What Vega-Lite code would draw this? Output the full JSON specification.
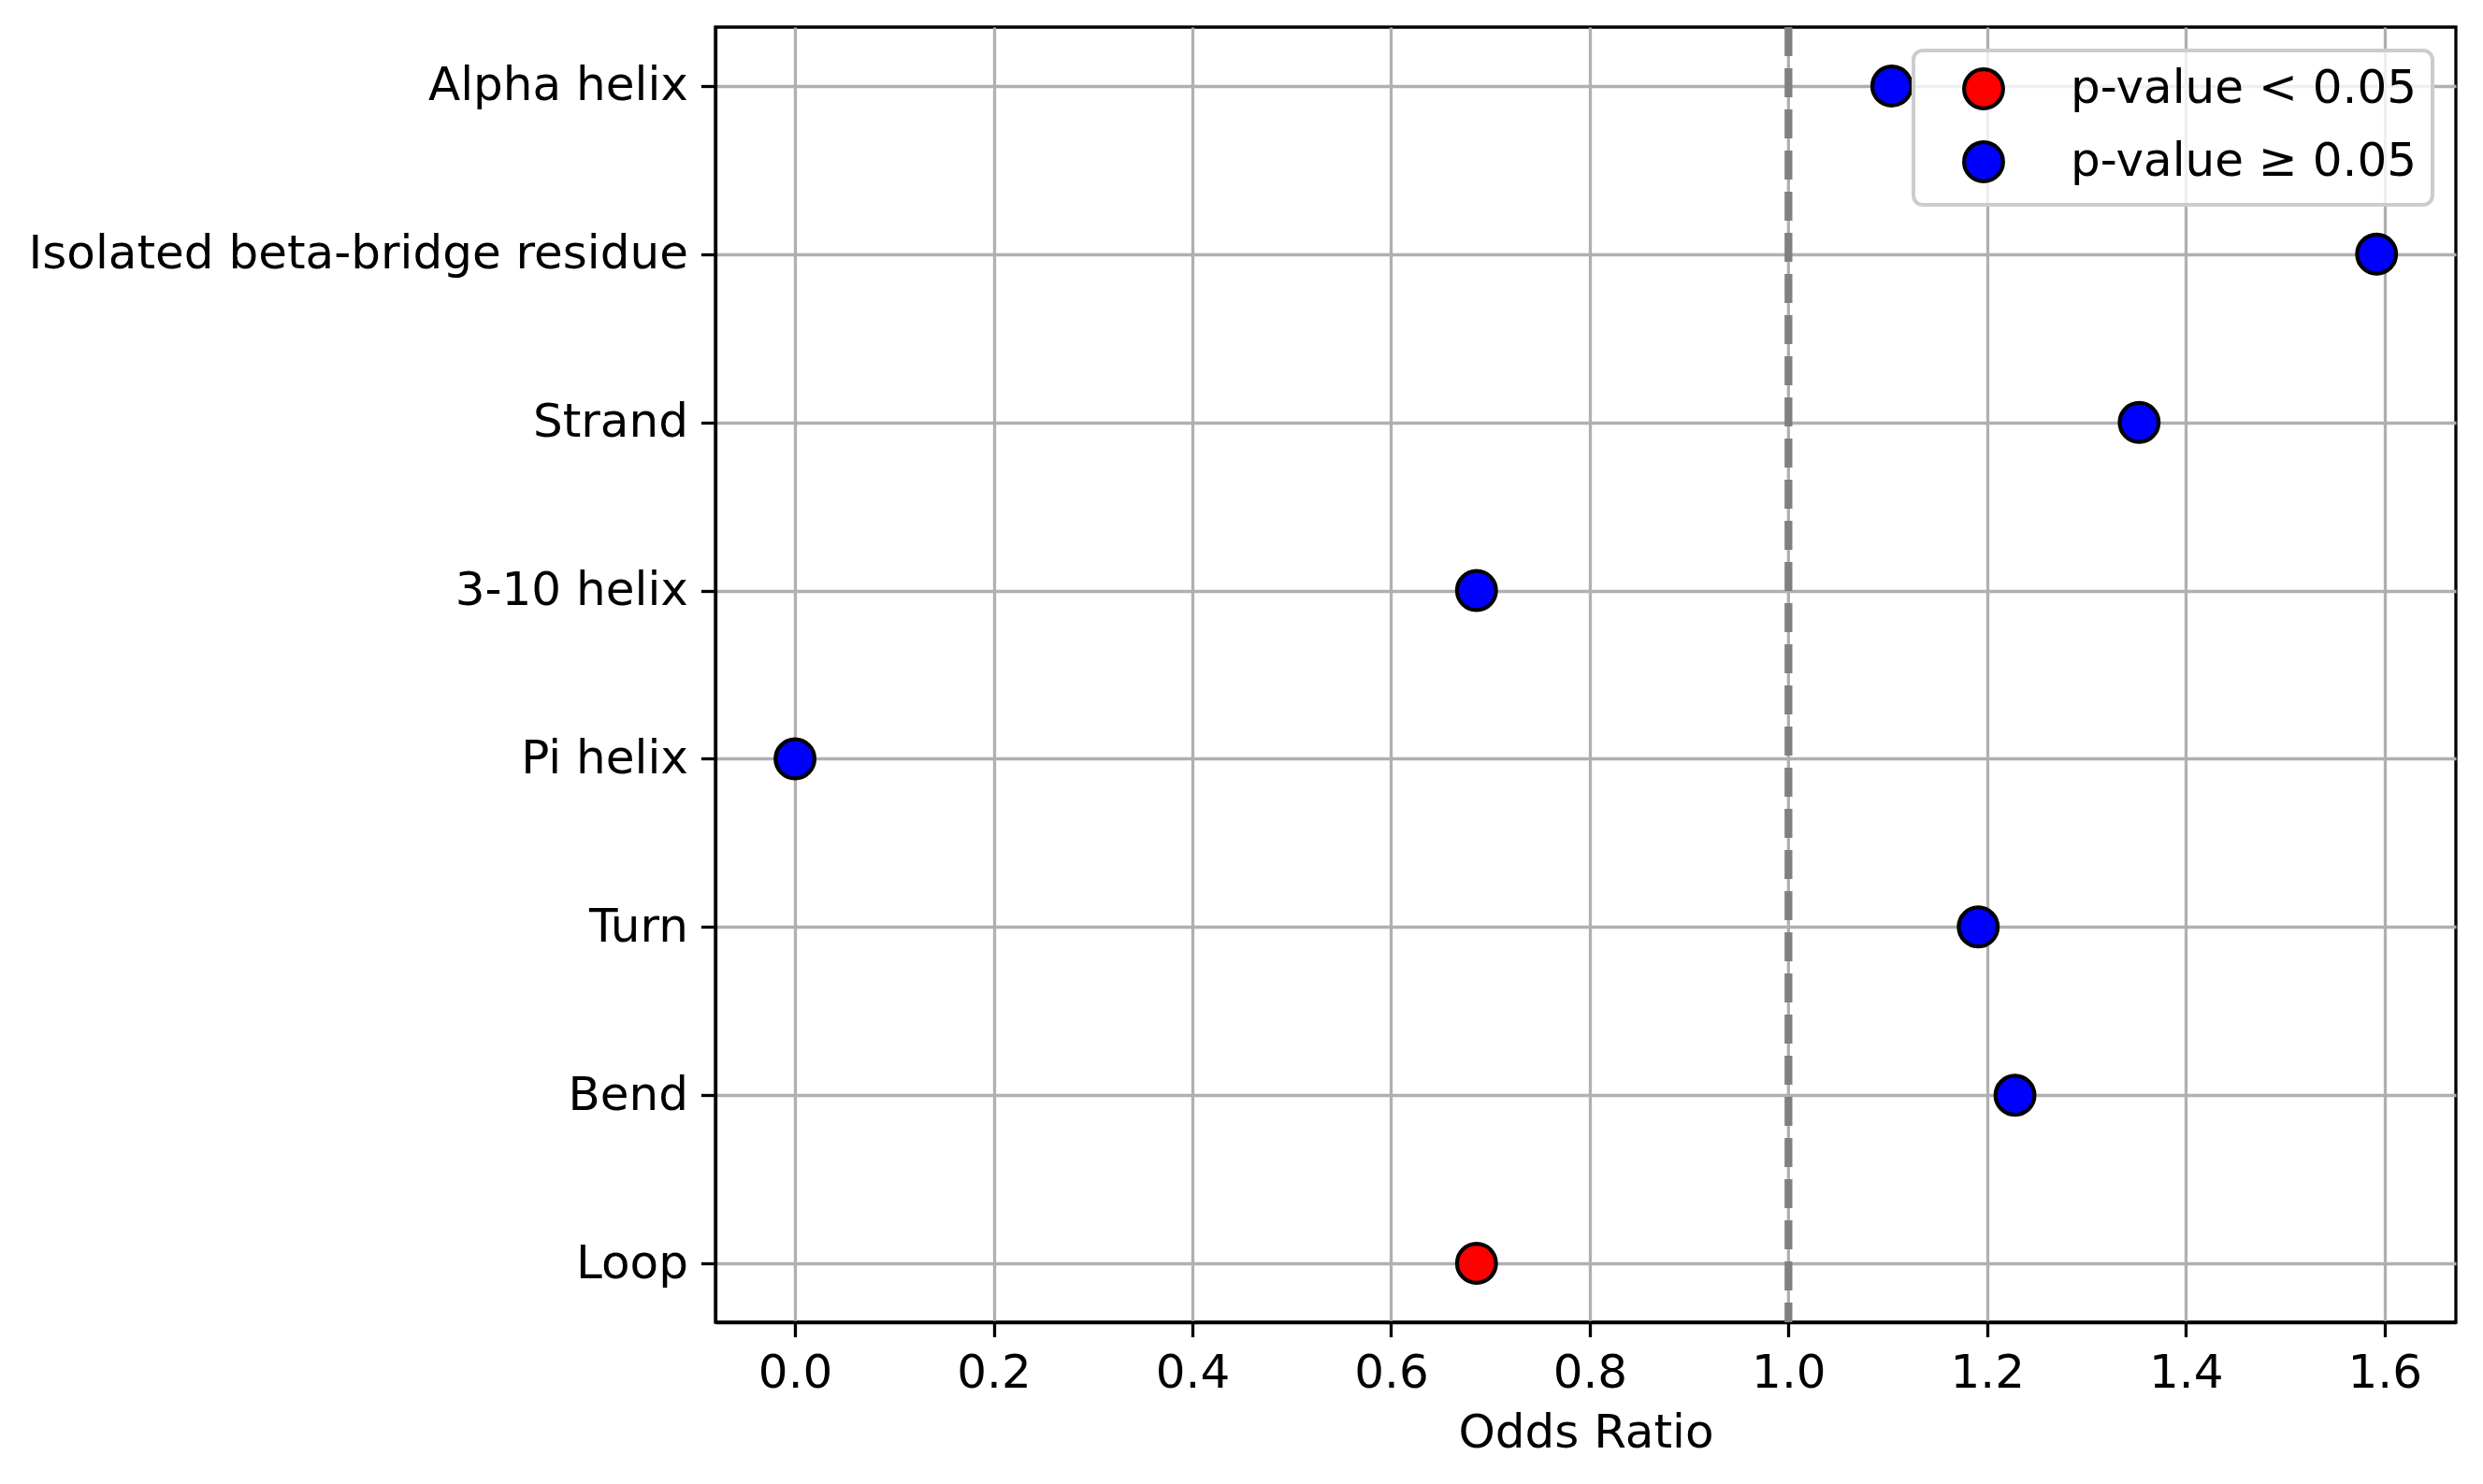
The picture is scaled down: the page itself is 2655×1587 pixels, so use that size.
{
  "$schema": "https://vega.github.io/schema/vega-lite/v6.json",
  "autosize": "none",
  "width": 1861,
  "height": 1385,
  "padding": {"left": 765, "top": 29, "right": 29, "bottom": 173},
  "background": "white",
  "config": {
    "font": "DejaVu Sans",
    "view": {"stroke": "black", "strokeWidth": 3.3},
    "axis": {
      "labelFont": "DejaVu Sans",
      "labelFontSize": 50,
      "labelColor": "black",
      "labelLimit": 0,
      "titleFont": "DejaVu Sans",
      "titleFontSize": 50,
      "titleFontWeight": "normal",
      "titleColor": "black",
      "domainColor": "black",
      "domainWidth": 3.3,
      "tickColor": "black",
      "tickWidth": 3.3,
      "tickSize": 15.6,
      "labelPadding": 14,
      "grid": true,
      "gridColor": "#b0b0b0",
      "gridWidth": 3.3,
      "zindex": 1
    }
  },
  "datasets": {
    "odds": [
      {"structure": "Alpha helix", "odds_ratio": 1.104, "significance": "p-value ≥ 0.05"},
      {"structure": "Isolated beta-bridge residue", "odds_ratio": 1.592, "significance": "p-value ≥ 0.05"},
      {"structure": "Strand", "odds_ratio": 1.353, "significance": "p-value ≥ 0.05"},
      {"structure": "3-10 helix", "odds_ratio": 0.686, "significance": "p-value ≥ 0.05"},
      {"structure": "Pi helix", "odds_ratio": 0.0, "significance": "p-value ≥ 0.05"},
      {"structure": "Turn", "odds_ratio": 1.191, "significance": "p-value ≥ 0.05"},
      {"structure": "Bend", "odds_ratio": 1.228, "significance": "p-value ≥ 0.05"},
      {"structure": "Loop", "odds_ratio": 0.686, "significance": "p-value < 0.05"}
    ],
    "reference": [{"odds_ratio": 1.0}]
  },
  "layer": [
    {
      "data": {"name": "odds"},
      "mark": {"type": "point", "shape": "circle", "filled": true, "size": 1739, "stroke": "black", "strokeWidth": 4.2, "opacity": 1},
      "encoding": {
        "x": {
          "field": "odds_ratio",
          "type": "quantitative",
          "scale": {"domain": [-0.0801, 1.6718], "nice": false, "zero": false},
          "axis": {
            "title": "Odds Ratio",
            "values": [0, 0.2, 0.4, 0.6, 0.8, 1.0, 1.2, 1.4, 1.6],
            "format": ".1f",
            "titlePadding": 14,
            "gridOpacity": {"condition": {"test": "datum.value === 1", "value": 0}, "value": 1}
          }
        },
        "y": {
          "field": "structure",
          "type": "nominal",
          "sort": null,
          "scale": {"type": "point", "padding": 0.35},
          "axis": {"title": null, "grid": true}
        },
        "color": {
          "field": "significance",
          "type": "nominal",
          "scale": {"domain": ["p-value < 0.05", "p-value ≥ 0.05"], "range": ["#ff0000", "#0000ff"]},
          "legend": {
            "title": null,
            "orient": "top-right",
            "offset": 25,
            "padding": 16,
            "symbolOffset": 34,
            "symbolType": "circle",
            "symbolSize": 1739,
            "symbolStrokeColor": "black",
            "symbolStrokeWidth": 4.2,
            "symbolOpacity": 1,
            "labelFont": "DejaVu Sans",
            "labelFontSize": 50,
            "labelColor": "black",
            "labelLimit": 0,
            "labelOffset": 68,
            "rowPadding": 18,
            "strokeColor": "#cccccc",
            "cornerRadius": 10,
            "fillColor": "rgba(255,255,255,0.8)",
            "zindex": 2,
            "encode": {"legend": {"update": {"strokeWidth": {"value": 4}}}}
          }
        }
      }
    },
    {
      "data": {"name": "reference"},
      "mark": {"type": "rule", "color": "#b0b0b0", "strokeWidth": 3.3},
      "encoding": {"x": {"field": "odds_ratio", "type": "quantitative"}}
    },
    {
      "data": {"name": "reference"},
      "mark": {"type": "rule", "color": "#808080", "strokeWidth": 8.3, "strokeDash": [31, 13]},
      "encoding": {"x": {"field": "odds_ratio", "type": "quantitative"}}
    }
  ]
}
